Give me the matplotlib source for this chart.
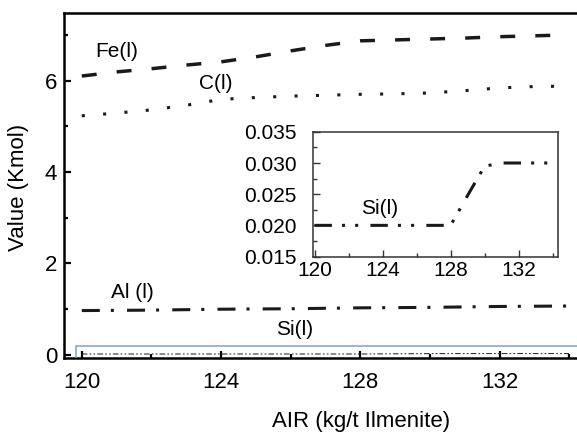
import numpy as np
import matplotlib
matplotlib.use('Agg')
import matplotlib.pyplot as plt
from matplotlib.patches import Rectangle
from matplotlib.ticker import MultipleLocator, FormatStrFormatter

plt.rcParams['font.family'] = ['Liberation Sans', 'DejaVu Sans']

air = [120, 121, 122, 123, 124, 125, 126, 127, 128, 129, 130, 131, 132, 133, 134]
fe = [6.10, 6.19, 6.26, 6.34, 6.41, 6.52, 6.65, 6.77, 6.87, 6.89, 6.91, 6.93, 6.96, 6.98, 7.00]
c = [5.23, 5.29, 5.36, 5.46, 5.59, 5.63, 5.66, 5.68, 5.70, 5.71, 5.73, 5.78, 5.84, 5.87, 5.88]
al = [0.97, 0.975, 0.98, 0.99, 1.00, 1.005, 1.01, 1.02, 1.03, 1.035, 1.04, 1.05, 1.06, 1.065, 1.07]
si = [0.020, 0.020, 0.020, 0.020, 0.020, 0.020, 0.020, 0.020, 0.020, 0.0248, 0.0295, 0.030, 0.030, 0.030, 0.030]

fs_tick = 16
fs_lab = 16
fs_txt = 15
fs_ins = 15

fig = plt.figure(figsize=(5.77, 4.32), dpi=100)
ax = fig.add_axes([0.111, 0.171, 0.92, 0.798])

ax.plot(air, fe, color='#1a1a1a', lw=2.5, linestyle=(0, (4.3, 5.8)), dash_capstyle='butt')
ax.plot(air, c, color='#1a1a1a', lw=2.2, linestyle=(0, (1, 6)), dash_capstyle='butt')
ax.plot(air, al, color='#1a1a1a', lw=2.2, linestyle=(0, (5.9, 3.6, 1, 4.3)), dash_capstyle='butt')
ax.plot(air, si, color='#333333', lw=0.8, linestyle=(0, (5, 2, 1.5, 2, 1.5, 2)))

ax.add_patch(Rectangle((119.83, -0.2), 20, 0.4, fill=False, edgecolor='#7f9fd0', lw=1.1, zorder=3))

ax.set_xlim(119.49, 134.74)
ax.set_ylim(-0.07, 7.47)
ax.xaxis.set_major_locator(MultipleLocator(4))
ax.xaxis.set_minor_locator(MultipleLocator(2))
ax.yaxis.set_major_locator(MultipleLocator(2))
ax.yaxis.set_minor_locator(MultipleLocator(1))
ax.tick_params(which='both', direction='in', width=1.6, labelsize=fs_tick, top=False, right=False)
ax.tick_params(which='major', length=5)
ax.tick_params(which='minor', length=3)
ax.tick_params(axis='x', pad=10)
ax.tick_params(axis='y', pad=5)
for s in ['left', 'bottom', 'top']:
    ax.spines[s].set_linewidth(1.8)
ax.spines['right'].set_visible(False)

ax.text(120.99, 6.63, 'Fe(l)', fontsize=fs_txt, ha='center', va='center')
ax.text(123.86, 5.93, 'C(l)', fontsize=fs_txt, ha='center', va='center')
ax.text(121.45, 1.36, 'Al (l)', fontsize=fs_txt, ha='center', va='center')
ax.text(126.1, 0.55, 'Si(l)', fontsize=fs_txt, ha='center', va='center')

fig.text(0.625, 0.025, 'AIR (kg/t Ilmenite)', fontsize=fs_lab, ha='center', va='center')
fig.text(0.032, 0.567, 'Value (Kmol)', fontsize=fs_lab, ha='center', va='center', rotation=90)

# inset
ins = fig.add_axes([0.543, 0.406, 0.4246, 0.289])
ins.plot(air, si, color='#1a1a1a', lw=2.2, linestyle=(0, (5.7, 3.3, 1, 3.3, 1, 4)), dash_capstyle='butt')
ins.set_xlim(119.93, 134.33)
ins.set_ylim(0.01499, 0.03501)
ins.xaxis.set_major_locator(MultipleLocator(4))
ins.xaxis.set_minor_locator(MultipleLocator(2))
ins.yaxis.set_major_locator(MultipleLocator(0.005))
ins.yaxis.set_minor_locator(MultipleLocator(0.0025))
ins.yaxis.set_major_formatter(FormatStrFormatter('%.3f'))
ins.tick_params(which='both', direction='in', width=1.0, labelsize=fs_ins, top=False, right=False, color='#333333')
ins.tick_params(which='major', length=5)
ins.tick_params(which='minor', length=3)
ins.tick_params(axis='y', pad=12)
for s in ins.spines.values():
    s.set_linewidth(1.1)
    s.set_color('#333333')
ins.text(123.8, 0.02277, 'Si(l)', fontsize=fs_txt, ha='center', va='center')

fig.savefig('out.png', dpi=100)
